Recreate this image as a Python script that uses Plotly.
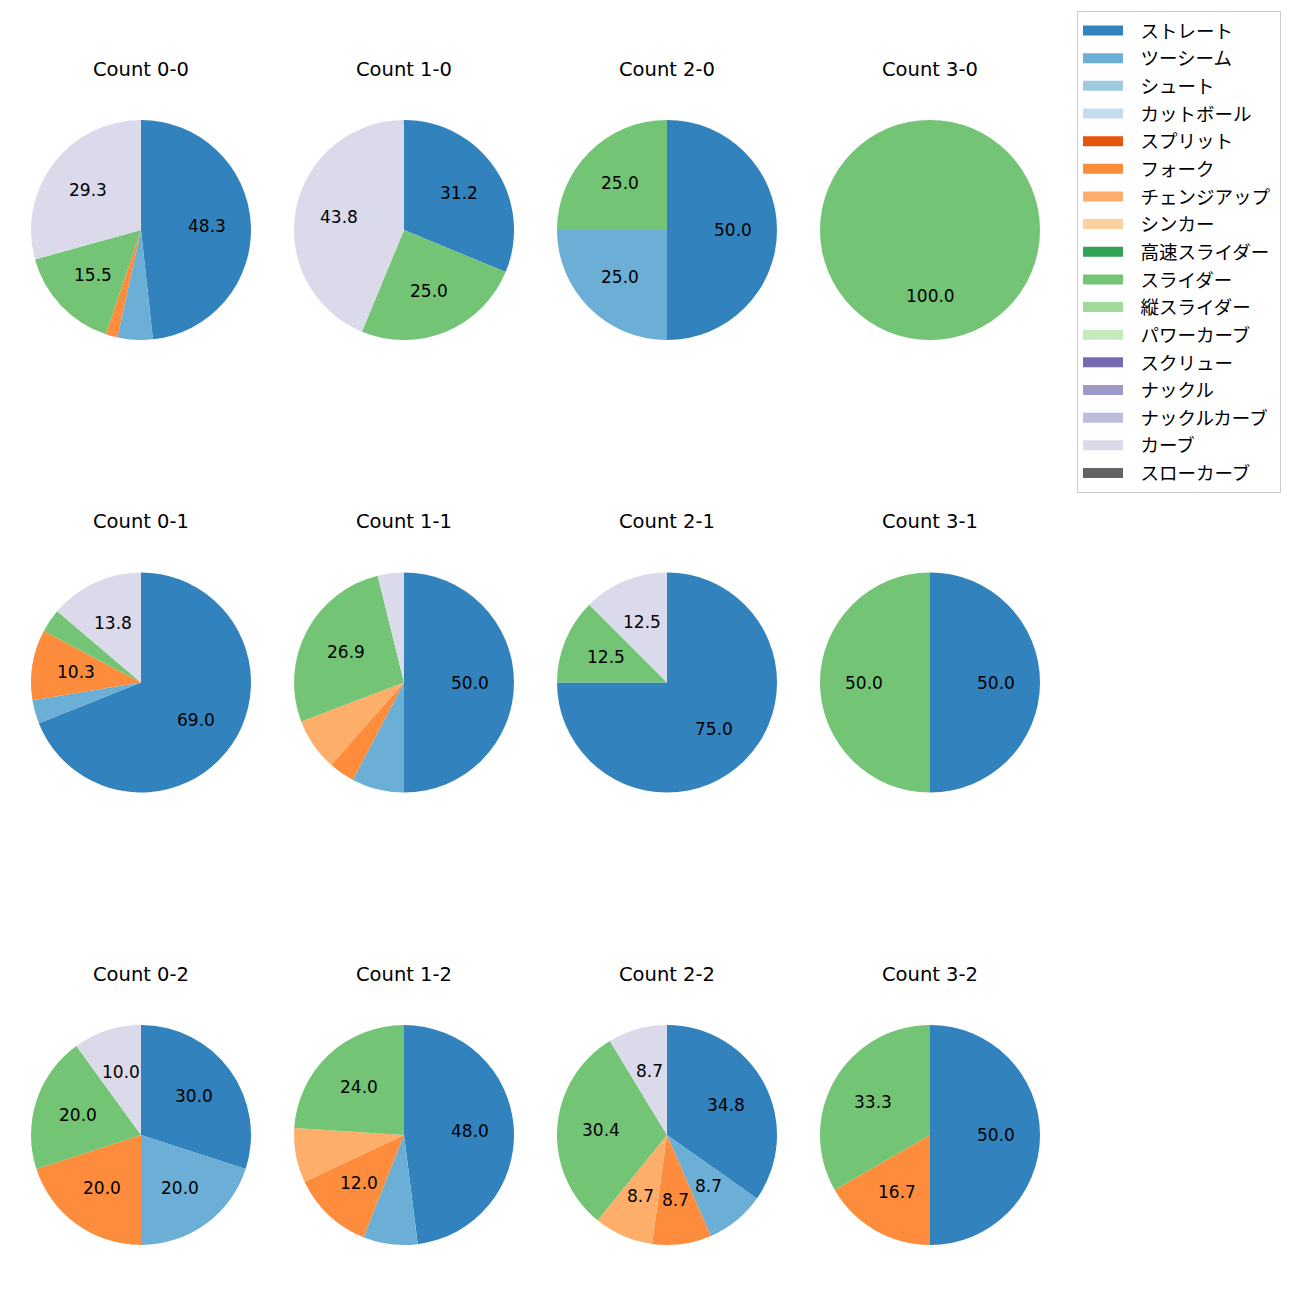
import math
import plotly.graph_objects as go

# ---- data ----
pitch_types = ["ストレート", "ツーシーム", "シュート", "カットボール", "スプリット", "フォーク",
               "チェンジアップ", "シンカー", "高速スライダー", "スライダー", "縦スライダー",
               "パワーカーブ", "スクリュー", "ナックル", "ナックルカーブ", "カーブ", "スローカーブ"]
colors = ["#3182bd", "#6baed6", "#9ecae1", "#c6dbef", "#e6550d", "#fd8d3c", "#fdae6b", "#fdd0a2",
          "#31a354", "#74c476", "#a1d99b", "#c7e9c0", "#756bb1", "#9e9ac8", "#bcbddc", "#dadaeb",
          "#636363"]

counts = ["0-0", "1-0", "2-0", "3-0",
          "0-1", "1-1", "2-1", "3-1",
          "0-2", "1-2", "2-2", "3-2"]

# pitch counts per count situation (order of pitch_types)
count_00 = [28, 3, 0, 0, 0, 1, 0, 0, 0, 9, 0, 0, 0, 0, 0, 17, 0]
count_10 = [5, 0, 0, 0, 0, 0, 0, 0, 0, 4, 0, 0, 0, 0, 0, 7, 0]
count_20 = [2, 1, 0, 0, 0, 0, 0, 0, 0, 1, 0, 0, 0, 0, 0, 0, 0]
count_30 = [0, 0, 0, 0, 0, 0, 0, 0, 0, 1, 0, 0, 0, 0, 0, 0, 0]
count_01 = [20, 1, 0, 0, 0, 3, 0, 0, 0, 1, 0, 0, 0, 0, 0, 4, 0]
count_11 = [13, 2, 0, 0, 0, 1, 2, 0, 0, 7, 0, 0, 0, 0, 0, 1, 0]
count_21 = [6, 0, 0, 0, 0, 0, 0, 0, 0, 1, 0, 0, 0, 0, 0, 1, 0]
count_31 = [1, 0, 0, 0, 0, 0, 0, 0, 0, 1, 0, 0, 0, 0, 0, 0, 0]
count_02 = [3, 2, 0, 0, 0, 2, 0, 0, 0, 2, 0, 0, 0, 0, 0, 1, 0]
count_12 = [12, 2, 0, 0, 0, 3, 2, 0, 0, 6, 0, 0, 0, 0, 0, 0, 0]
count_22 = [8, 2, 0, 0, 0, 2, 2, 0, 0, 7, 0, 0, 0, 0, 0, 2, 0]
count_32 = [3, 0, 0, 0, 0, 1, 0, 0, 0, 2, 0, 0, 0, 0, 0, 0, 0]

all_counts = [count_00, count_10, count_20, count_30,
              count_01, count_11, count_21, count_31,
              count_02, count_12, count_22, count_32]

# ---- layout geometry (pixels) ----
W = H = 1300
OFF = 8  # page body margin
col_cx = [141, 404, 667, 930]
row_cy = [230, 682.5, 1135]
R = 110
FONT = "Noto Sans CJK JP"
LFONT = "DejaVu Sans"


def px_x(v):
    return (v - OFF) / W


def px_y(v):
    return 1 - (v - OFF) / H


fig = go.Figure()
annotations = []

for i, (name, vals) in enumerate(zip(counts, all_counts)):
    cx = col_cx[i % 4]
    cy = row_cy[i // 4]
    fig.add_trace(go.Pie(
        labels=pitch_types, values=vals, sort=False, direction="clockwise", rotation=0,
        marker=dict(colors=colors, line=dict(width=0)),
        textinfo="none", showlegend=False, hoverinfo="label+percent",
        domain=dict(x=[px_x(cx - R), px_x(cx + R)], y=[px_y(cy + R), px_y(cy - R)]),
    ))
    # title
    annotations.append(dict(
        text=f"Count {name}", x=px_x(cx), y=px_y(cy - R - 51), xref="paper", yref="paper",
        showarrow=False, font=dict(family=LFONT, size=19.5, color="#000"),
        xanchor="center", yanchor="middle"))
    total = sum(vals)
    cum = 0
    for v in vals:
        if v > 0:
            pct = v / total * 100
            if pct > 8:
                mid = (cum + v / 2) / total
                ang = math.radians(90 - 360 * mid)
                px = cx + 0.6 * R * math.cos(ang)
                py = cy - 0.6 * R * math.sin(ang)
                annotations.append(dict(
                    text=f"{pct:.1f}", x=px_x(px), y=px_y(py), xref="paper", yref="paper",
                    showarrow=False, font=dict(family=LFONT, size=17, color="#000"),
                    xanchor="center", yanchor="middle"))
        cum += v

# legend entries via dummy line traces
for j, (pt, c) in enumerate(zip(pitch_types, colors)):
    fig.add_trace(go.Scatter(
        x=[None], y=[None], mode="lines", name="\u00a0\u00a0\u00a0" + pt + "\u00a0",
        legendgroup=f"g{j}", line=dict(color=c, width=13), showlegend=True))

fig.update_layout(
    width=W, height=H, margin=dict(l=0, r=0, t=0, b=0),
    paper_bgcolor="white", plot_bgcolor="white",
    xaxis=dict(visible=False), yaxis=dict(visible=False),
    annotations=annotations,
    legend=dict(x=px_x(1077), y=px_y(11), xanchor="left", yanchor="top",
                font=dict(family=FONT, size=18.5, color="#000"),
                bordercolor="#cccccc", borderwidth=1, bgcolor="white",
                tracegroupgap=0.6, traceorder="grouped", itemwidth=40),
    font=dict(family=FONT),
)

fig.write_html("out.html")
